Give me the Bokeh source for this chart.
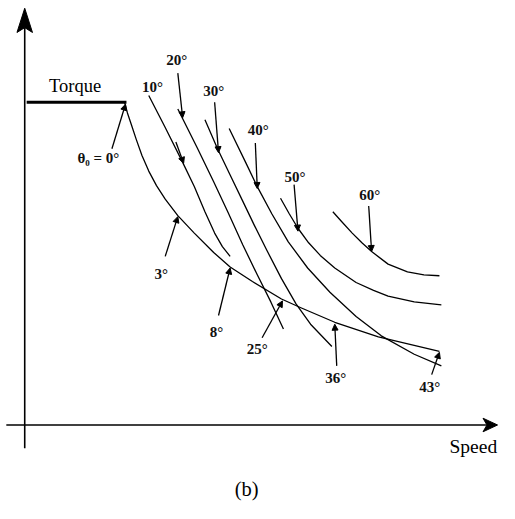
from bokeh.plotting import figure
from bokeh.models import Range1d, ColumnDataSource, Arrow, NormalHead
from bokeh.core.properties import value
from bokeh.embed import file_html
from bokeh.resources import INLINE

# ---- data (schematic, reference-pixel units) ----
torque_x = [27, 130]
torque_y = [105, 105]

env_x = [128, 131, 135, 140, 146, 153, 161, 170, 183, 200, 220, 237, 260, 290, 310, 345, 390, 453]
env_y = [105, 116, 128, 143, 160, 176, 191, 205, 222, 240, 260, 275, 290, 308, 317, 332, 347, 362]

c10_x = [153, 170, 188, 200, 211, 221, 229, 237]
c10_y = [98, 131, 167, 192, 218, 240, 254, 264]

c20_x = [183, 203, 220, 235, 250, 265, 279, 292]
c20_y = [112, 152, 187, 219, 252, 283, 311, 339]

c30_x = [211, 224, 237, 250, 262, 275, 290, 305, 320, 342]
c30_y = [123, 153, 180, 207, 232, 258, 287, 313, 334, 357]

c40_x = [236, 253, 265, 280, 297, 317, 340, 367, 393, 427, 455]
c40_y = [132, 167, 192, 220, 249, 276, 301, 326, 346, 365, 377]

c50_x = [289, 298, 307, 318, 330, 345, 367, 385, 400, 427, 455]
c50_y = [204, 220, 235, 250, 263, 276, 291, 299, 305, 311, 314]

c60_x = [343, 352, 363, 373, 383, 400, 420, 437, 453]
c60_y = [218, 228, 240, 250, 259, 272, 280, 283, 284]

labels = ["10°", "20°", "30°", "40°", "50°", "60°", "θ₀ = 0°", "3°", "8°", "25°", "36°", "43°"]
label_x = [157, 182, 220, 266, 304, 381, 101, 166, 223, 265, 346, 443]
label_y = [89, 61, 93, 134, 182, 201, 163, 282, 342, 360, 389, 399]
ptr_x0 = [181, 183, 221, 263, 303, 380, 115, 170, 225, 270, 347, 445]
ptr_y0 = [146, 75, 105, 147, 190, 212, 153, 264, 325, 348, 377, 386]
ptr_x1 = [189, 188, 225, 265, 307, 383, 129, 183, 237, 291, 345, 453]
ptr_y1 = [168, 121, 157, 194, 238, 259, 107, 223, 276, 310, 334, 363]

axis_origin = (25, 438)
yaxis_top = 8
yaxis_bottom = 462
xaxis_left = 6
xaxis_right = 513

p = figure(width=499, height=503, output_backend="svg", toolbar_location=None,
           x_range=Range1d(0, 515), y_range=Range1d(519, 0),
           x_axis_type=None, y_axis_type=None, min_border=0)
p.grid.visible = False
p.outline_line_color = None
p.background_fill_color = "white"
p.border_fill_color = "white"

# axes
ox, oy = axis_origin
p.line([ox, ox], [yaxis_bottom, yaxis_top + 20], line_color="black", line_width=1.6)
p.line([xaxis_left, xaxis_right - 12], [oy, oy], line_color="black", line_width=1.6)
p.patch([ox, ox - 8, ox, ox + 8], [yaxis_top, yaxis_top + 25, yaxis_top + 20, yaxis_top + 25], color="black")
p.patch([xaxis_right, xaxis_right - 15, xaxis_right - 11, xaxis_right - 15],
        [oy, oy - 7, oy, oy + 7], color="black")

# torque limit
p.line(torque_x, torque_y, line_color="black", line_width=3)

# curves
for cx, cy in [(env_x, env_y), (c10_x, c10_y), (c20_x, c20_y), (c30_x, c30_y),
               (c40_x, c40_y), (c50_x, c50_y), (c60_x, c60_y)]:
    p.line(cx, cy, line_color="black", line_width=1.3, line_join="round")

# pointers
src = ColumnDataSource(dict(x0=ptr_x0, y0=ptr_y0, x1=ptr_x1, y1=ptr_y1))
p.add_layout(Arrow(end=NormalHead(size=6, fill_color="black", line_color="black", line_width=1),
                   x_start="x0", y_start="y0", x_end="x1", y_end="y1",
                   line_color="black", line_width=1.3, source=src))

# labels
p.text(x=label_x, y=label_y, text=labels, text_font=value("Liberation Serif"),
       text_font_size="15px", text_font_style="bold", text_align="center",
       text_baseline="middle", text_color="#111111")
p.text(x=[77], y=[88], text=["Torque"], text_font=value("Liberation Serif"),
       text_font_size="18.5px", text_align="center", text_baseline="middle", text_color="black")
p.text(x=[488], y=[460], text=["Speed"], text_font=value("Liberation Serif"),
       text_font_size="19.5px", text_align="center", text_baseline="middle", text_color="black")
p.text(x=[254], y=[504], text=["(b)"], text_font=value("Liberation Serif"),
       text_font_size="20.5px", text_align="center", text_baseline="middle", text_color="black")

open("out.html", "w").write(file_html(p, INLINE))
